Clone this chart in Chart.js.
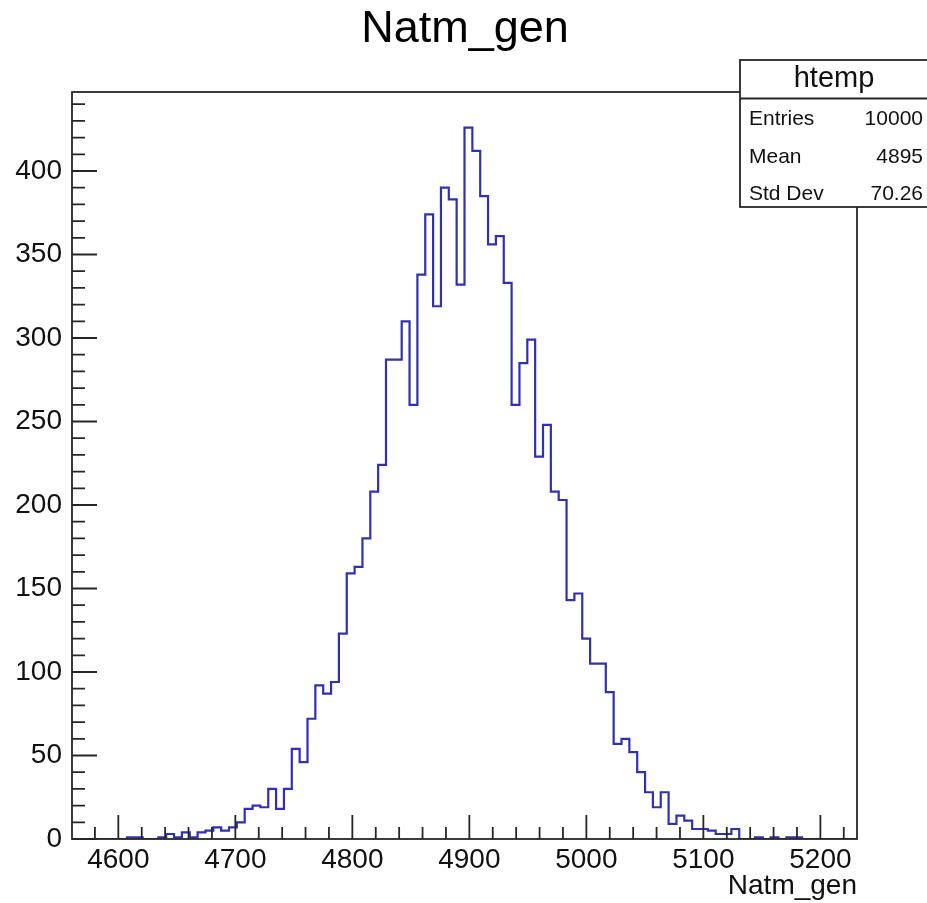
<!DOCTYPE html>
<html>
<head>
<meta charset="utf-8">
<script src="https://cdn.jsdelivr.net/npm/chart.js@4.4.1/dist/chart.umd.min.js"></script>
<style>
  html, body { margin: 0; padding: 0; background: #fff; }
  #wrap { width: 927px; height: 903px; position: relative; }
</style>
</head>
<body>
<div id="wrap"><canvas id="hist"></canvas></div>
<script>
// histogram range (htemp, 100 bins)
const xLow = 4560.4;
const xHigh = 5231.3;
const yMax = 447.3;

// bin contents
const counts = [
  0, 0, 0, 0, 0, 0, 0, 1, 1, 0,
  0, 1, 3, 1, 4, 1, 4, 5, 7, 5,
  7, 10, 18, 20, 19, 30, 18, 30, 54, 46,
  72, 92, 87, 94, 123, 159, 163, 180, 208, 224,
  287, 287, 310, 260, 338, 374, 319, 390, 383, 332,
  426, 412, 385, 356, 361, 333, 260, 285, 299, 229,
  248, 208, 203, 143, 147, 120, 105, 105, 88, 57,
  60, 52, 40, 28, 19, 28, 9, 14, 11, 6,
  6, 5, 3, 3, 6, 0, 0, 1, 0, 1,
  0, 1, 1, 0, 0, 0, 0, 0, 0, 0
];

const xTicks = [4600, 4700, 4800, 4900, 5000, 5100, 5200];
const yTicks = [0, 50, 100, 150, 200, 250, 300, 350, 400];

const histName = 'htemp';
const statLabels = ['Entries', 'Mean', 'Std Dev'];
const statValues = ['10000', '4895', '70.26'];

const titleText = 'Natm_gen';
const xTitle = 'Natm_gen';

const FONT = '"Liberation Sans", Arial, Helvetica, sans-serif';

// points on the lower bin edges, plus the closing edge
const binW = (xHigh - xLow) / counts.length;
const points = counts.map((c, i) => ({ x: xLow + i * binW, y: c }));
points.push({ x: xHigh, y: counts[counts.length - 1] });

// frame, inward ticks, title and stats box like ROOT draws them
const rootStyle = {
  id: 'rootStyle',
  afterDatasetsDraw(chart) {
    const { ctx, chartArea: a, scales: { x, y } } = chart;
    ctx.save();
    ctx.strokeStyle = '#262626';
    ctx.lineWidth = 1.8;
    ctx.strokeRect(a.left, a.top, a.right - a.left, a.bottom - a.top);

    ctx.beginPath();
    for (let v = Math.ceil(x.min / 20) * 20; v <= x.max; v += 20) {
      const px = x.getPixelForValue(v);
      const len = v % 100 === 0 ? 24 : 12;
      ctx.moveTo(px, a.bottom);
      ctx.lineTo(px, a.bottom - len);
    }
    for (let v = 0; v <= y.max; v += 10) {
      const py = y.getPixelForValue(v);
      const len = v % 50 === 0 ? 25 : 13;
      ctx.moveTo(a.left, py);
      ctx.lineTo(a.left + len, py);
    }
    ctx.stroke();
    ctx.restore();
  },
  afterDraw(chart) {
    const { ctx } = chart;
    ctx.save();
    // title
    ctx.fillStyle = '#000';
    ctx.font = '45px ' + FONT;
    ctx.textAlign = 'center';
    ctx.textBaseline = 'alphabetic';
    ctx.fillText(titleText, 465, 42);

    // stats box
    const bx = 740, by = 60, bw = 190, bh = 147;
    ctx.fillStyle = '#fff';
    ctx.fillRect(bx, by, bw, bh);
    ctx.strokeStyle = '#262626';
    ctx.lineWidth = 1.8;
    ctx.strokeRect(bx, by, bw, bh);
    ctx.beginPath();
    ctx.moveTo(bx, 98.5);
    ctx.lineTo(bx + bw, 98.5);
    ctx.stroke();

    ctx.fillStyle = '#111';
    ctx.font = '29px ' + FONT;
    ctx.textAlign = 'center';
    ctx.fillText(histName, 834, 87);

    ctx.font = '21px ' + FONT;
    statLabels.forEach((lab, i) => {
      const ty = 125 + i * 37.5;
      ctx.textAlign = 'left';
      ctx.fillText(lab, 749, ty);
      ctx.textAlign = 'right';
      ctx.fillText(statValues[i], 923, ty);
    });
    ctx.restore();
  }
};

new Chart(document.getElementById('hist'), {
  type: 'line',
  data: {
    datasets: [{
      label: histName,
      data: points,
      stepped: 'before',
      borderColor: '#3030b6',
      borderWidth: 2.2,
      pointRadius: 0,
      fill: false
    }]
  },
  options: {
    responsive: true,
    maintainAspectRatio: false,
    animation: false,
    events: [],
    layout: { padding: { top: 92, right: 70, left: 0, bottom: 0 } },
    plugins: {
      legend: { display: false },
      title: { display: false },
      tooltip: { enabled: false }
    },
    scales: {
      x: {
        type: 'linear',
        min: xLow,
        max: xHigh,
        grid: { display: false, drawTicks: false },
        border: { display: false },
        afterBuildTicks: s => { s.ticks = xTicks.map(v => ({ value: v })); },
        afterFit: s => { s.height = 64; },
        ticks: {
          padding: 4,
          color: '#111',
          font: { family: FONT, size: 28 },
          maxRotation: 0,
          callback: v => String(v)
        },
        title: {
          display: true,
          text: xTitle,
          align: 'end',
          color: '#111',
          font: { family: FONT, size: 28 },
          padding: { top: 0, bottom: 0 }
        }
      },
      y: {
        min: 0,
        max: yMax,
        grid: { display: false, drawTicks: false },
        border: { display: false },
        afterBuildTicks: s => { s.ticks = yTicks.map(v => ({ value: v })); },
        afterFit: s => { s.width = 72; },
        ticks: {
          padding: 10,
          color: '#111',
          font: { family: FONT, size: 28 },
          callback: v => String(v)
        }
      }
    }
  },
  plugins: [rootStyle]
});
</script>
</body>
</html>
